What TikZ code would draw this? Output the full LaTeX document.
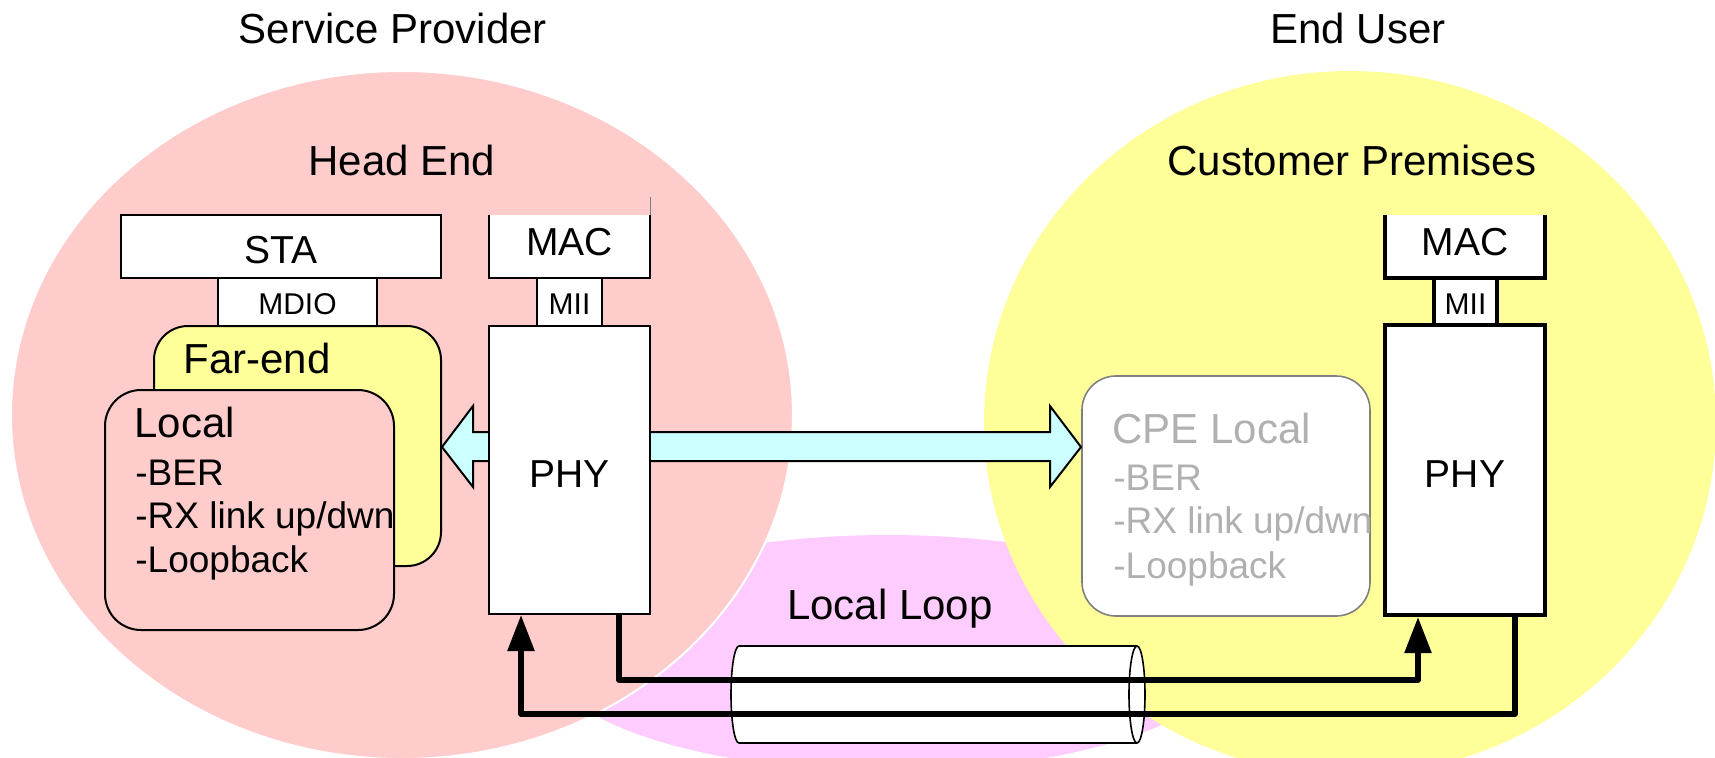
\documentclass[tikz,border=0pt]{standalone}
\usepackage{fontspec}
\setmainfont{Liberation Sans}
\usetikzlibrary{fit,arrows.meta}
\definecolor{pinkbg}{HTML}{FFCCCC}
\definecolor{yellowbg}{HTML}{FFFF99}
\definecolor{magentabg}{HTML}{FFCCFF}
\definecolor{cyanfill}{HTML}{CCFFFF}
\definecolor{greytext}{HTML}{B0B0B0}
\definecolor{greyline}{HTML}{808080}
\begin{document}
\begin{tikzpicture}[x=0.5pt,y=-0.5pt,
  title/.style={inner sep=0pt, anchor=base, font=\fontsize{21pt}{25pt}\selectfont},
  boxthin/.style={draw=black, fill=white, line width=1pt, inner sep=0pt},
  boxthick/.style={draw=black, fill=white, line width=2pt, inner sep=0pt},
  boxnoline/.style={fill=white, inner sep=0pt},
  rbox/.style={draw=black, line width=1pt, inner sep=0pt, rounded corners=17pt},
  biglbl/.style={inner sep=0pt, anchor=base, font=\fontsize{19.5pt}{23pt}\selectfont},
  smalllbl/.style={inner sep=0pt, anchor=base, font=\fontsize{15pt}{18pt}\selectfont},
  headlbl/.style={inner sep=0pt, anchor=base west, font=\fontsize{21pt}{25pt}\selectfont},
  itemlbl/.style={inner sep=0pt, anchor=base west, font=\fontsize{18.5pt}{22pt}\selectfont},
  conn/.style={line width=2.8pt, line join=round, -{Triangle[width=13pt,length=18pt]}},
  connplain/.style={line width=2.8pt, line join=round},
  cylline/.style={draw=black, line width=0.8pt}
]
\useasboundingbox (0,0) rectangle (1715,757);
\clip (0,0) rectangle (1715,757);
\fill[white] (0,0) rectangle (1715,757);

% background regions
\fill[magentabg] (888,653) ellipse [x radius=172.5pt, y radius=59pt];
\filldraw[fill=pinkbg, draw=white, line width=1pt] (402,415) ellipse [x radius=195.5pt, y radius=172pt];
\fill[yellowbg] (1350,423) ellipse [x radius=183pt, y radius=176pt];

% titles
\node[title] (sp) at (393,43) {Service Provider};
\node[title] (eu) at (1358,43) {End User};
\node[title] (he) at (402,175) {Head End};
\node[title] (cp) at (1352,175) {Customer Premises};
\node[title] (ll) at (890,619) {Local Loop};

% head end: management side
\node[rbox, fill=yellowbg, fit={(154,326) (441,566)}] (farend) {};
\node[headlbl] (farendlbl) at (183,373) {Far-end};
\node[rbox, fill=pinkbg, rounded corners=18pt, fit={(105,390) (394,630)}] (local) {};
\node[headlbl] (locallbl) at (134,437) {Local};
\node[itemlbl] (localber) at (135,485) {-BER};
\node[itemlbl] (localrx) at (135,528) {-RX link up/dwn};
\node[itemlbl] (locallb) at (135,572) {-Loopback};

\node[boxthin, fit={(121,215) (441,278)}] (sta) {};
\node[biglbl] (stalbl) at (281,263) {STA};
\node[boxthin, fit={(218,278) (377,326)}] (mdio) {};
\node[smalllbl] (mdiolbl) at (297.5,314) {MDIO};

% customer premises local box
\node[rbox, draw=greyline, line width=0.8pt, fill=white, fit={(1082,376) (1370,616)}] (cpe) {};
\node[headlbl, text=greytext] (cpelbl) at (1112,443) {CPE Local};
\node[itemlbl, text=greytext] (cpeber) at (1113,490) {-BER};
\node[itemlbl, text=greytext] (cperx) at (1113,533) {-RX link up/dwn};
\node[itemlbl, text=greytext] (cpelb) at (1113,578) {-Loopback};

% cyan double block arrow
\draw[fill=cyanfill, line width=1pt, line join=miter]
  (442,447) -- (473,406) -- (473,432) -- (1050,432) -- (1050,406) -- (1081,447)
  -- (1050,487) -- (1050,461) -- (473,461) -- (473,487) -- cycle;

% head end PHY stack
\node[boxnoline, fit={(489,215) (650,278)}] (macL) {};
\draw[line width=1pt] (macL.north west) |- (macL.south east) -- (macL.north east);
\draw[greyline, line width=0.5pt] (macL.north east) -- ++(0,-18);
\node[biglbl] (macLlbl) at (569.5,255) {MAC};
\node[boxthin, fit={(537,278) (602,326)}] (miiL) {};
\node[smalllbl] (miiLlbl) at (569.5,314) {MII};
\node[boxthin, fit={(489,326) (650,614)}] (phyL) {};
\node[biglbl] (phyLlbl) at (569.5,487) {PHY};

% customer PHY stack
\node[boxnoline, fit={(1385,215) (1545,278)}] (macR) {};
\draw[line width=2pt] (macR.north west) |- (macR.south east) -- (macR.north east);
\node[biglbl] (macRlbl) at (1465,255) {MAC};
\node[boxthick, fit={(1434,278) (1497,325)}] (miiR) {};
\node[smalllbl] (miiRlbl) at (1465.5,314) {MII};
\node[boxthick, fit={(1385,325) (1545,615)}] (phyR) {};
\node[biglbl] (phyRlbl) at (1465,487) {PHY};

% cable (local loop)
\path[fill=white] (1137,646) -- (739,646)
  arc[start angle=90, end angle=270, x radius=4pt, y radius=24.25pt] -- (1137,743) -- cycle;
\draw[cylline] (1137,646) -- (739,646)
  arc[start angle=90, end angle=270, x radius=4pt, y radius=24.25pt] -- (1137,743);
\draw[cylline, fill=white] (1137,694.5) ellipse [x radius=4pt, y radius=24.25pt];

% connectors
\draw[conn] ([xshift=24.75pt]phyL.south) -- ++(0,65) -| ([xshift=-23.5pt]phyR.south);
\draw[conn] ([xshift=25pt]phyR.south) -- ++(0,97) -| ([xshift=-24.25pt]phyL.south);
\end{tikzpicture}
\end{document}
